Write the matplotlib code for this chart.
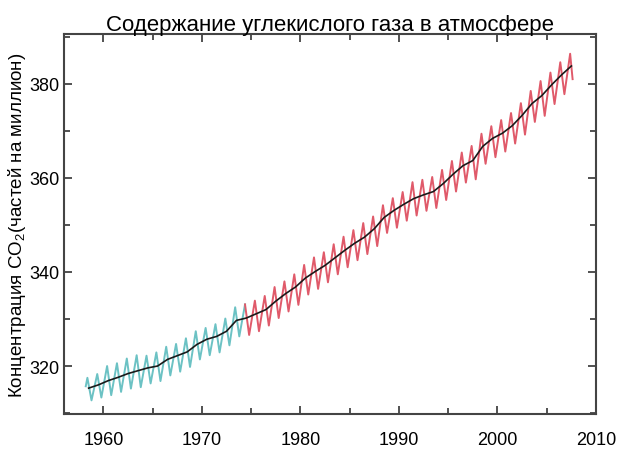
import matplotlib
matplotlib.use("Agg")
import matplotlib.pyplot as plt
from matplotlib.ticker import MultipleLocator
from matplotlib import font_manager

# ---------------- data ----------------
years = list(range(1958, 2008))
annual_mean = [315.3, 316.0, 316.9, 317.6, 318.4, 319.0, 319.6, 320.0, 321.4, 322.2,
               323.0, 324.6, 325.7, 326.3, 327.4, 329.7, 330.2, 331.1, 332.0, 333.8,
               335.4, 336.8, 338.7, 340.1, 341.4, 343.0, 344.6, 346.1, 347.4, 349.2,
               351.6, 353.1, 354.4, 355.6, 356.4, 357.1, 358.8, 360.8, 362.6, 363.7,
               366.7, 368.4, 369.5, 371.1, 373.3, 375.8, 377.5, 379.8, 381.9, 383.8]
may_peak = [317.5, 318.3, 320.0, 320.6, 321.6, 322.3, 322.2, 322.9, 324.1, 324.7,
            325.9, 327.4, 328.1, 328.9, 330.1, 332.5, 333.1, 333.9, 334.9, 336.8,
            338.0, 339.5, 341.5, 343.1, 344.2, 345.9, 347.5, 348.9, 350.4, 351.8,
            354.2, 355.7, 357.0, 359.1, 359.6, 360.2, 361.7, 363.6, 365.4, 366.8,
            369.4, 371.0, 372.3, 373.8, 375.9, 378.5, 380.6, 382.4, 384.6, 386.4]
oct_trough = [312.7, 313.3, 313.8, 314.5, 315.2, 315.5, 316.3, 316.8, 318.0, 318.8,
              319.8, 321.4, 322.3, 322.9, 324.4, 326.3, 326.6, 327.4, 328.6, 330.2,
              331.6, 333.0, 335.2, 336.4, 337.8, 339.5, 341.0, 342.5, 343.8, 345.5,
              348.3, 349.4, 350.9, 352.0, 353.0, 353.6, 355.3, 357.1, 359.0, 359.7,
              363.0, 364.4, 365.6, 367.3, 369.2, 371.9, 373.2, 375.7, 377.8]
first_value = 315.7   # March 1958
last_value = 381.0    # August 2007
split_year = 1974     # station record colour change (cyan -> red)

# ---------------- build the seasonal series ----------------
t, v = [1958 + 2.5 / 12], [first_value]
for i, y in enumerate(years):
    t.append(y + 4.5 / 12); v.append(may_peak[i])
    if i < len(oct_trough):
        t.append(y + 9.5 / 12); v.append(oct_trough[i])
t.append(2007 + 7.5 / 12); v.append(last_value)

split_t = split_year + 4.5 / 12
cyan_t = [a for a in t if a <= split_t]
cyan_v = v[:len(cyan_t)]
red_t = t[len(cyan_t) - 1:]
red_v = v[len(cyan_t) - 1:]

mean_t = [y + 0.5 for y in years]

# ---------------- figure ----------------
avail = {f.name for f in font_manager.fontManager.ttflist}
base = "Liberation Sans" if "Liberation Sans" in avail else "DejaVu Sans"
title_font = "Liberation Sans Narrow" if "Liberation Sans Narrow" in avail else base
plt.rcParams["font.family"] = [base, "DejaVu Sans"]
plt.rcParams["mathtext.fontset"] = "custom"
plt.rcParams["mathtext.rm"] = base
plt.rcParams["mathtext.it"] = base

fig = plt.figure(figsize=(6.2, 4.6), dpi=100)
ax = fig.add_axes([64 / 620, 45 / 460, 532 / 620, 380 / 460])

ax.plot(cyan_t, cyan_v, color="#6cc2c4", lw=1.4, zorder=2)
ax.plot(red_t, red_v, color="#e05a6a", lw=1.4, zorder=2)
ax.plot(mean_t, annual_mean, color="#1a1a1a", lw=1.2, zorder=3)

ax.set_xlim(1956, 2010)
ax.set_ylim(309.8, 390.6)
ax.xaxis.set_major_locator(MultipleLocator(10))
ax.xaxis.set_minor_locator(MultipleLocator(5))
ax.yaxis.set_major_locator(MultipleLocator(20))
ax.yaxis.set_minor_locator(MultipleLocator(10))
ax.tick_params(which="both", direction="in", top=True, right=True,
               color="#333333", width=1.2)
ax.tick_params(which="major", length=6, labelsize=13)
ax.tick_params(which="minor", length=4)
ax.tick_params(axis="x", pad=12)
ax.tick_params(axis="y", pad=3)
for s in ax.spines.values():
    s.set_color("#444444")
    s.set_linewidth(1.5)

ax.set_ylabel("Концентрация CO$_2$(частей на миллион)", fontsize=13.5, labelpad=1)
fig.text(330 / 620, 1 - 25 / 460, "Содержание углекислого газа в атмосфере",
         ha="center", va="center", fontsize=16, family=[title_font, "DejaVu Sans"])

fig.savefig("out.png", dpi=100)
